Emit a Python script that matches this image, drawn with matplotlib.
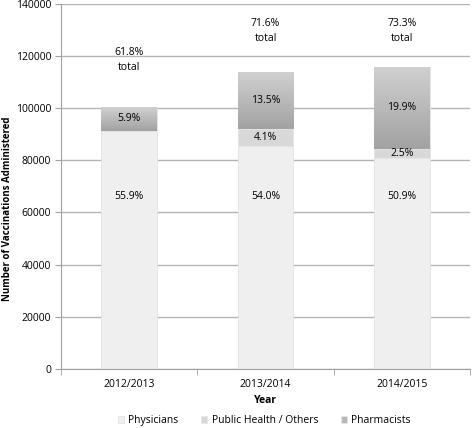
import numpy as np
import matplotlib.pyplot as plt
from matplotlib.colors import LinearSegmentedColormap

plt.rcParams['font.family'] = ['Open Sans', 'DejaVu Sans']

years = ['2012/2013', '2013/2014', '2014/2015']
physicians = [91300, 85500, 80900]
public_health = [0, 6500, 3500]
pharmacists = [9200, 21500, 31400]
phys_pct = ['55.9%', '54.0%', '50.9%']
ph_pct = ['', '4.1%', '2.5%']
pharm_pct = ['5.9%', '13.5%', '19.9%']
total_pct = ['61.8%', '71.6%', '73.3%']

fig = plt.figure(figsize=(4.72, 4.28), dpi=100)
ax = fig.add_axes([0.129, 0.138, 0.867, 0.853])

x = np.arange(len(years))
w = 0.41
phys = np.array(physicians)
ph = np.array(public_health)
pharm = np.array(pharmacists)

ax.bar(x, phys, w, color='#efefef', edgecolor='#e2e2e2', linewidth=0.6,
       label='Physicians', zorder=2)
ax.bar(x, ph, w, bottom=phys, color='#d8d8d8', edgecolor='#e6e6e6', linewidth=0.6,
       label='Public Health / Others', zorder=2)
bars = ax.bar(x, pharm, w, bottom=phys + ph, color='#b8b8b8', edgecolor='#e6e6e6',
              linewidth=0.6, label='Pharmacists', zorder=2)

# gradient fill for the pharmacist segments
cmap = LinearSegmentedColormap.from_list('g', ['#a2a2a2', '#d0d0d0'])
grad = np.linspace(0, 1, 100).reshape(-1, 1)
for b in bars:
    x0, y0 = b.get_x(), b.get_y()
    ax.imshow(grad, cmap=cmap, aspect='auto', origin='lower',
              extent=[x0, x0 + b.get_width(), y0, y0 + b.get_height()], zorder=3)

fs = 7.5
for i in range(len(years)):
    ax.text(x[i], 66000, phys_pct[i], ha='center', va='center', fontsize=fs, zorder=4)
    if ph_pct[i]:
        ax.text(x[i], phys[i] + ph[i] / 2, ph_pct[i], ha='center', va='center',
                fontsize=fs, zorder=4)
    ax.text(x[i], phys[i] + ph[i] + pharm[i] / 2, pharm_pct[i], ha='center',
            va='center', fontsize=fs, zorder=4)
    tot = phys[i] + ph[i] + pharm[i]
    ax.text(x[i], min(tot + 18000, 129500), total_pct[i] + '\ntotal', ha='center',
            va='center', fontsize=fs, linespacing=1.5, zorder=4)

ax.set_xlim(-0.5, 2.5)
ax.set_ylim(0, 140000)
ax.set_yticks(np.arange(0, 140001, 20000))
ax.set_xticks(x)
ax.set_xticklabels(years, fontsize=fs)
ax.set_xticks([-0.5, 0.5, 1.5, 2.5], minor=True)
ax.tick_params(axis='x', which='major', length=0, pad=7)
ax.tick_params(axis='x', which='minor', length=4, color='#a0a0a0')
ax.tick_params(axis='y', labelsize=fs, length=4, color='#a0a0a0', pad=3)
ax.yaxis.grid(True, color='#b4b4b4', linewidth=1)
ax.set_axisbelow(True)
for s in ['top', 'right']:
    ax.spines[s].set_visible(False)
for s in ['left', 'bottom']:
    ax.spines[s].set_color('#a0a0a0')

ax.set_xlabel('Year', fontsize=fs, fontweight='bold', labelpad=4)
ax.set_ylabel('Number of Vaccinations Administered', fontsize=7, fontweight='bold')
ax.yaxis.set_label_coords(-0.118, 0.44)

leg = fig.legend(*ax.get_legend_handles_labels(), loc='center',
                 bbox_to_anchor=(0.56, 0.017), ncol=3,
                 frameon=False, fontsize=fs, handlelength=0.6, handleheight=0.6,
                 handletextpad=0.4, columnspacing=2.2)
for h, c in zip(leg.legend_handles, ['#efefef', '#d8d8d8', '#b8b8b8']):
    h.set_facecolor(c)

fig.savefig('out.png', dpi=100)
